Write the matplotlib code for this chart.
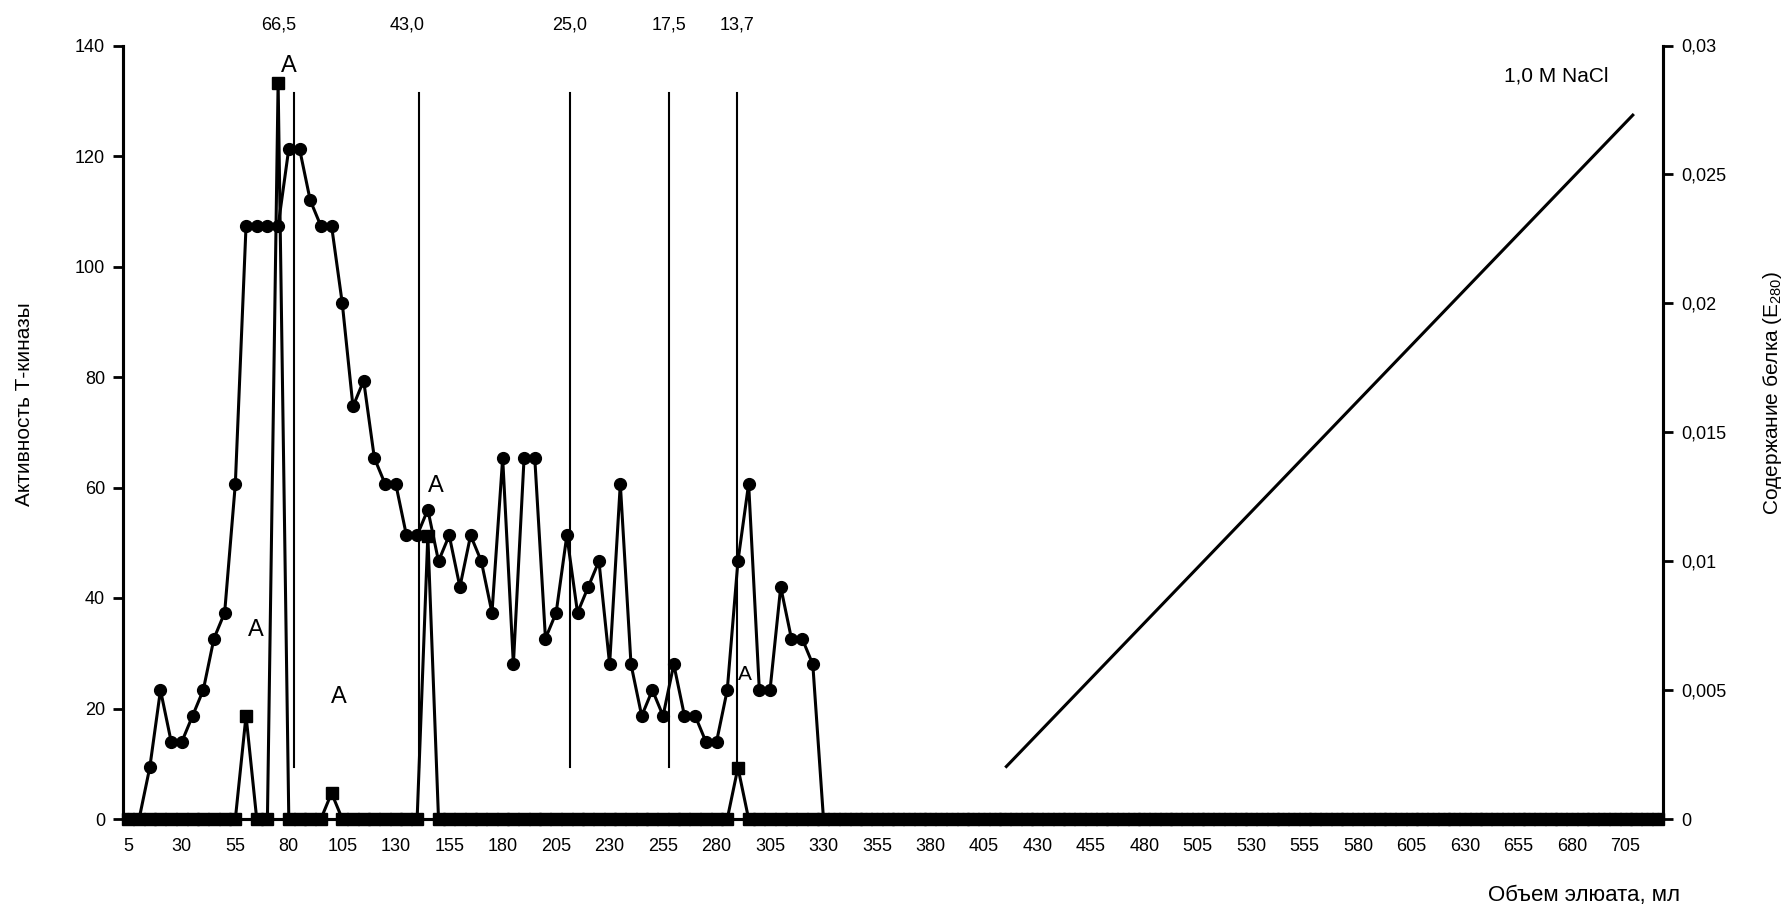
import matplotlib
matplotlib.use("Agg")
import matplotlib.pyplot as plt
import matplotlib.font_manager as fm
import numpy as np

# eluate volume, ml (one fraction every 5 ml)
volume = list(range(5, 725, 5))

# protein content E280 (circles, right axis)
protein = [0, 0, .002, .005, .003, .003, .004, .005, .007, .008,
           .013, .023, .023, .023, .023, .026, .026, .024, .023, .023,
           .020, .016, .017, .014, .013, .013, .011, .011, .012, .010,
           .011, .009, .011, .010, .008, .014, .006, .014, .014, .007,
           .008, .011, .008, .009, .010, .006, .013, .006, .004, .005,
           .004, .006, .004, .004, .003, .003, .005, .010, .013, .005,
           .005, .009, .007, .007, .006]
protein = protein + [0] * (len(volume) - len(protein))

# T-kinase activity (squares, left axis), nonzero fractions only
activity_peaks = {60: 18.7, 75: 133.3, 100: 4.7, 145: 51.3, 290: 9.3}
activity = [activity_peaks.get(v, 0) for v in volume]

# NaCl gradient line (start / end)
nacl_x = [415.5, 708.4]
nacl_y = [9.5, 127.4]

# molecular weight markers, kDa
mw_labels = ["66,5", "43,0", "25,0", "17,5", "13,7"]
mw_line_x = [82.4, 140.8, 211.5, 257.8, 289.7]
mw_text_x = [75.4, 135.1, 211.5, 257.8, 289.7]

# "A" marks
a_x = [80.0, 64.6, 103.4, 148.7, 293.3]
a_y = [136.3, 34.2, 22.1, 60.3, 26.1]
a_size = [17, 17, 17, 17, 15]

names = {f.name for f in fm.fontManager.ttflist}
narrow = "Liberation Sans Narrow" if "Liberation Sans Narrow" in names else "Liberation Sans"
plt.rcParams['font.family'] = ['Liberation Sans', 'DejaVu Sans']
plt.rcParams['mathtext.default'] = 'regular'

fig = plt.figure(figsize=(17.86, 9.10), dpi=100)
ax = fig.add_axes([0.0689, 0.1, 0.8622, 0.85])
ax2 = ax.twinx()

ax.set_xlim(2.5, 722.5)
ax.set_ylim(0, 140)
ax2.set_ylim(0, 0.03)

lw = 2.2
ax2.plot(volume, protein, color='k', lw=lw, marker='o', ms=8.5, zorder=3)
ax.plot(volume, activity, color='k', lw=lw, marker='s', ms=8, zorder=3, clip_on=False)
ax.plot(nacl_x, nacl_y, color='k', lw=2.2)

for xl in mw_line_x:
    ax.plot([xl, xl], [9.4, 131.4], color='k', lw=1.5)
for t, xt in zip(mw_labels, mw_text_x):
    ax.text(xt, 143.7, t, ha='center', va='center', fontsize=13, clip_on=False)
for xa, ya, s in zip(a_x, a_y, a_size):
    ax.text(xa, ya, "A", ha='center', va='center', fontsize=s)

ax.text(672.5, 134.5, "1,0 M NaCl", ha='center', va='center', fontsize=15)

ax.set_yticks(range(0, 141, 20))
ax.set_xticks(range(5, 706, 25))
ax.tick_params(axis='x', length=0, pad=14, labelsize=13)
ax.tick_params(axis='y', direction='out', length=7, width=2, labelsize=13, pad=6)
ax2.set_yticks(np.arange(0, 0.0301, 0.005))
ax2.set_yticklabels(["0", "0,005", "0,01", "0,015", "0,02", "0,025", "0,03"])
ax2.tick_params(axis='y', direction='out', length=7, width=2, labelsize=13, pad=6)

for a in (ax, ax2):
    a.spines['top'].set_visible(False)
    a.spines['left'].set_linewidth(2.2)
    a.spines['right'].set_linewidth(2.2)
    a.spines['bottom'].set_linewidth(2.2)
ax2.set_zorder(ax.get_zorder() + 1)
ax2.patch.set_visible(False)

fig.text(25 / 1786, 1 - 404 / 910, "Активность Т-киназы", rotation=90,
         ha='center', va='center', fontsize=15, family=[narrow, 'DejaVu Sans'])
fig.text(1773 / 1786, 1 - 393 / 910, "Содержание белка (E$_{280}$)", rotation=90,
         ha='center', va='center', fontsize=15, family=[narrow, 'DejaVu Sans'])
fig.text(1680 / 1786, 1 - 896 / 910, "Объем элюата, мл", ha='right', va='center',
         fontsize=16, family=[narrow, 'DejaVu Sans'])

fig.savefig("out.png", dpi=100)
